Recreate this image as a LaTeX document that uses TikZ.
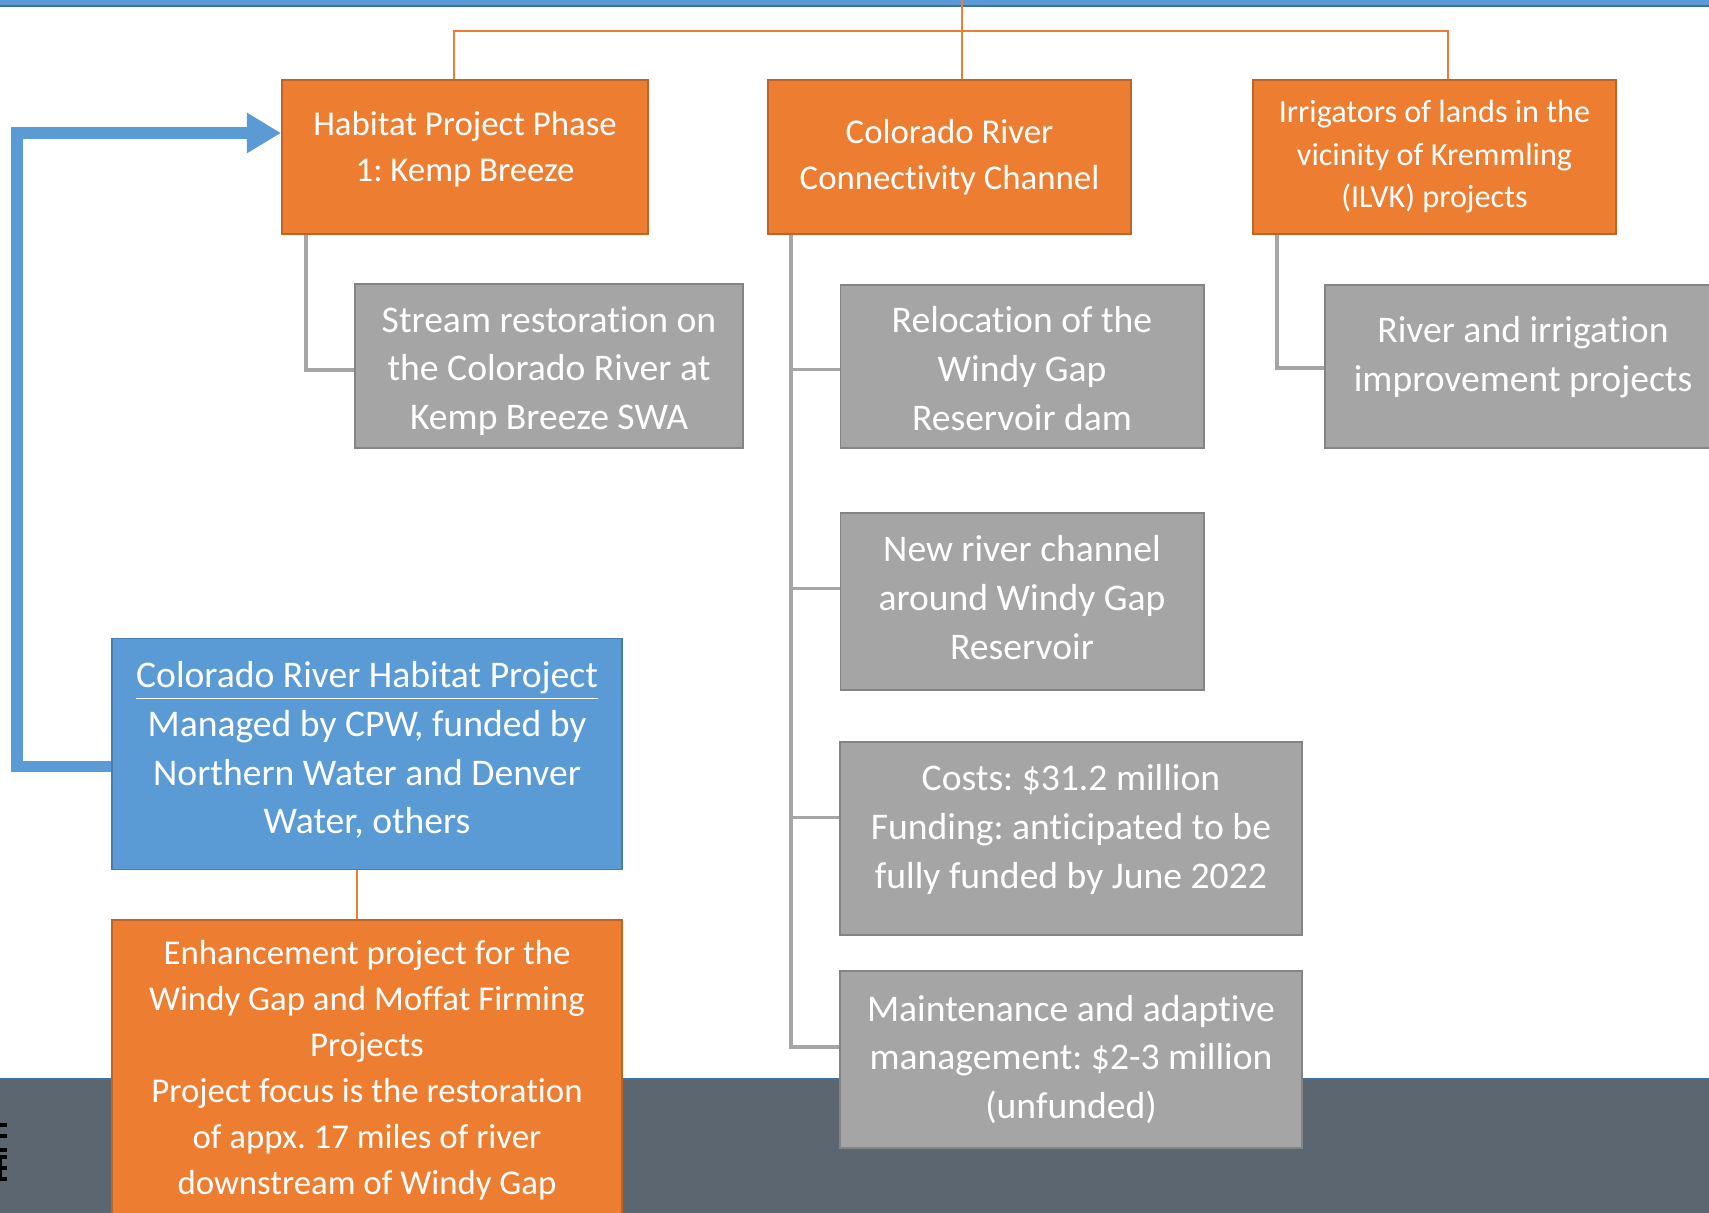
\documentclass[tikz,border=0pt]{standalone}
\definecolor{SlideOrange}{RGB}{237, 125, 49}
\definecolor{SlideGrey}{RGB}{165, 165, 165}
\definecolor{SlideBlue}{RGB}{91, 155, 213}
\definecolor{BandSlate}{RGB}{92, 102, 112}
\definecolor{EdgeBlue}{RGB}{62, 112, 160}
\usepackage{fontspec}
\setmainfont{Carlito}[Ligatures=NoCommon]
\frenchspacing
\usetikzlibrary{arrows.meta, positioning, calc}

\begin{document}
\begin{tikzpicture}[x=0.01cm, y=-0.01cm,
    orangetext/.style={text=white, align=center, inner sep=0pt, font=\fontsize{9.9}{13.1}\selectfont},
    greytext/.style={text=white, align=center, inner sep=0pt, font=\fontsize{10.7}{13.9}\selectfont},
    orangebox/.style={orangetext, draw=SlideOrange!80!black, line width=0.5pt, fill=SlideOrange},
    greybox/.style={greytext, draw=SlideGrey!80!black, line width=0.5pt, fill=SlideGrey},
    bluebox/.style={greytext, draw=SlideBlue!80!black, line width=0.5pt, fill=SlideBlue},
    orangeline/.style={draw=SlideOrange, line width=0.8pt},
    greyline/.style={draw=SlideGrey, line width=1.1pt},
    feedback/.style={draw=SlideBlue, line width=3.3pt, -{Triangle[length=0.34cm, width=0.38cm]}}]

            \useasboundingbox (0,0) rectangle (1709,1213);
            \clip (0,0) rectangle (1709,1213);

            % slide background
            \fill[white] (0,0) rectangle (1709,1213);
            \fill[SlideBlue] (0,0) rectangle (1709,6);
            \draw[EdgeBlue, line width=0.5pt] (0,6) -- (1709,6);
            \fill[BandSlate] (0,1079) rectangle (1709,1213);
            \draw[EdgeBlue, line width=0.6pt] (0,1079) -- (1709,1079);
            \foreach \ty in {1123, 1134, 1148, 1155, 1166, 1177}
                \fill[black] (0,\ty) rectangle (7,\ty+4);
            \fill[black] (0,1155) rectangle (2,1181);

            % top row
            \node[orangebox, minimum width=3.66cm, minimum height=1.54cm] (hab1) at (465,157) {};
            \node[orangetext] (hab1-txt) at ([yshift=0.08cm]hab1.center)
                {Habitat Project Phase\\1: Kemp Breeze};
            \node[orangebox, minimum width=3.63cm, minimum height=1.54cm] (conn) at (949.5,157)
                {Colorado River\\Connectivity Channel};
            \node[orangebox, minimum width=3.63cm, minimum height=1.54cm,
                font=\fontsize{9.15}{12.1}\selectfont] (ilvk) at (1434.5,157)
                {Irrigators of lands in the\\vicinity of Kremmling\\(ILVK) projects};

            % children
            \node[greybox, minimum width=3.88cm, minimum height=1.64cm] (stream) at (549,366) {};
            \node[greytext] (stream-txt) at ([yshift=-0.05cm]stream.center)
                {Stream restoration on\\the Colorado River at\\Kemp Breeze SWA};
            \node[greybox, minimum width=3.63cm, minimum height=1.63cm] (reloc) at (1022,366.5) {};
            \node[greytext] (reloc-txt) at ([yshift=-0.02cm]reloc.center)
                {Relocation of the\\Windy Gap\\Reservoir dam};
            \node[greybox, minimum width=3.96cm, minimum height=1.63cm] (river) at (1523,366.5) {};
            \node[greytext] (river-txt) at ([yshift=0.09cm]river.center)
                {River and irrigation\\improvement projects};
            \node[greybox, minimum width=3.63cm, minimum height=1.77cm] (newch) at (1022,601.5) {};
            \node[greytext] (newch-txt) at ([yshift=0.04cm]newch.center)
                {New river channel\\around Windy Gap\\Reservoir};
            \node[greybox, minimum width=4.62cm, minimum height=1.93cm] (costs) at (1071,838.5) {};
            \node[greytext] (costs-txt) at ([yshift=0.09cm]costs.center)
                {Costs: \$31.2 million\\Funding: anticipated to be\\fully funded by June 2022};
            \node[greybox, minimum width=4.62cm, minimum height=1.77cm] (maint) at (1071,1059.5)
                {Maintenance and adaptive\\management: \$2-3 million\\(unfunded)};

            % habitat project
            \node[bluebox, minimum width=5.09cm, minimum height=2.31cm] (crhp) at (367,754) {};
            \node[greytext] (crhp-txt) at ([yshift=0.04cm]crhp.center)
                {\underline{Colorado River Habitat Project}\\Managed by CPW, funded by\\Northern Water and Denver\\Water, others};
            \node[orangebox, minimum width=5.09cm, inner ysep=0.2cm, anchor=north] (enh) at (367,919)
                {Enhancement project for the\\Windy Gap and Moffat Firming\\Projects\\Project focus is the restoration\\of appx. 17 miles of river\\downstream of Windy Gap};

            % connectors
            \coordinate (root) at (962,0);
            \coordinate (bus) at (962,31);
            \draw[orangeline] (root) -- (root |- conn.north);
            \draw[orangeline] ([xshift=-0.11cm]hab1.north) |- (bus) -| ([xshift=0.135cm]ilvk.north);
            \draw[orangeline] ([xshift=-0.1cm]crhp.south) -- ([xshift=-0.1cm]enh.north);

            \draw[greyline] ([xshift=0.25cm]hab1.south west) |- ([yshift=-0.04cm]stream.west);
            \draw[greyline] ([xshift=0.25cm]ilvk.south west) |- ([yshift=-0.015cm]river.west);
            \coordinate (trunk) at ([xshift=0.24cm]conn.south west);
            \foreach \kid/\dy in {reloc/-0.03, newch/0.13, costs/0.21, maint/0.125}
                \draw[greyline] (trunk) |- ([yshift=\dy cm]\kid.west);

            \coordinate (turn) at (17,133);
            \draw[feedback] ([yshift=-0.125cm]crhp.west) -| (turn) -- (turn -| hab1.west);
        \end{tikzpicture}
\end{document}
